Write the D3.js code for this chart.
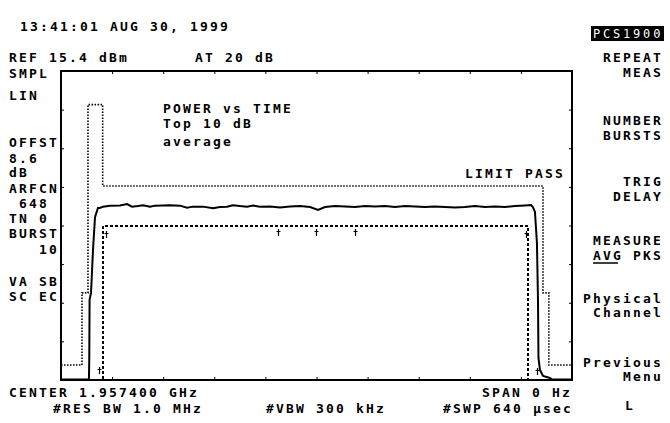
<!DOCTYPE html>
<html><head><meta charset="utf-8">
<script src="https://cdn.jsdelivr.net/npm/d3@7"></script>
<style>
body{margin:0;background:#fff}
svg text{font-family:"DejaVu Sans Mono",monospace;font-weight:bold;font-size:13px;letter-spacing:2.17px;fill:#000}
</style></head><body>
<svg id="c" width="670" height="423"></svg>
<script>
// Instrument settings
const REF_DBM = 15.4;       // reference level at top of the graticule (linear display)
const SWEEP_US = 640;       // zero-span sweep time

// Averaged burst trace: time (µs) and level (dBm)
const traceTime = [0, 35.0, 35.4, 35.8, 37.6, 40.1, 42.6, 46.3, 48.8, 52.6, 61.4, 73.9, 82.7, 88.9, 96.4, 102.7,
  111.5, 117.7, 136.5, 149.0, 157.8, 165.3, 177.8, 190.4, 199.1, 207.9, 215.4, 224.2, 232.9, 240.5, 249.2,
  261.8, 274.3, 286.8, 299.3, 311.9, 321.9, 330.6, 343.2, 355.7, 368.2, 380.7, 393.3, 405.8, 418.3, 430.8,
  443.4, 455.9, 468.4, 480.9, 493.4, 506.0, 518.5, 531.0, 543.5, 556.1, 568.6, 581.1, 588.6, 591.1, 593.6,
  596.1, 597.4, 598.0, 599.9, 603.7, 612.4, 615.0, 640];
const traceLevel = [-40, -40, -8, 3.7, 4.4, 7.9, 9.84, 10.31, 10.31, 10.38, 10.43, 10.44, 10.51, 10.38, 10.41, 10.45,
  10.38, 10.43, 10.45, 10.43, 10.33, 10.38, 10.38, 10.30, 10.36, 10.38, 10.45, 10.41, 10.38, 10.43, 10.38,
  10.39, 10.34, 10.39, 10.41, 10.36, 10.21, 10.36, 10.41, 10.39, 10.36, 10.41, 10.39, 10.41, 10.36, 10.41,
  10.39, 10.36, 10.39, 10.36, 10.34, 10.36, 10.41, 10.36, 10.39, 10.36, 10.41, 10.44, 10.46, 10.36, 10.11,
  8.34, 3.66, -7.55, -14.4, -22.4, -28.4, -40, -40];

// Upper limit mask (dotted): corner times (µs) and levels (dBm)
const upperTime  = [0, 26.3, 26.3, 33.8, 33.8, 52.2, 52.2, 603.7, 603.7, 611.0, 611.0, 640];
const upperLevel = [-10.9, -10.9, 4.4, 4.4, 14.4, 14.4, 11.36, 11.36, 4.4, 4.4, -10.9, -10.9];

// Lower limit mask (dashed)
const lowerTime  = [52.6, 52.6, 584.9, 584.9];
const lowerLevel = [-40, 9.35, 9.35, -40];

// Gate markers: time (µs), level (dBm)
const markerTime  = [56.4, 271.8, 319.4, 368.2, 582.4, 47.6, 596.1];
const markerLevel = [9.0, 9.1, 9.1, 9.1, 9.0, -12.5, -13.5];

const svg = d3.select("#c");

const x = d3.scaleLinear().domain([0, SWEEP_US]).range([61, 572]);
// linear voltage display: full scale = reference level
const v = d3.scaleLinear().domain([0, 1]).range([380, 71]);
const y = dbm => v(Math.pow(10, (dbm - REF_DBM) / 20));

const zip = (a, b) => a.map((t, i) => [t, b[i]]);
const line = d3.line().x(d => x(d[0])).y(d => y(d[1]));

// graticule frame
svg.append("rect")
  .attr("x", x(0)).attr("y", v(1))
  .attr("width", x(SWEEP_US) - x(0)).attr("height", v(0) - v(1))
  .attr("fill", "none").attr("stroke", "#000").attr("stroke-width", 2);

// small division ticks
const xAxisTop = d3.axisBottom(x).tickValues(d3.range(64, SWEEP_US, 64)).tickSize(3).tickFormat("");
const xAxisBot = d3.axisTop(x).tickValues(d3.range(64, SWEEP_US, 64)).tickSize(3).tickFormat("");
const yAxisL = d3.axisRight(v).tickValues(d3.range(0.125, 1, 0.125)).tickSize(3).tickFormat("");
const yAxisR = d3.axisLeft(v).tickValues(d3.range(0.125, 1, 0.125)).tickSize(3).tickFormat("");
[[xAxisTop, `translate(0,${v(1)})`], [xAxisBot, `translate(0,${v(0)})`],
 [yAxisL, `translate(${x(0)},0)`], [yAxisR, `translate(${x(SWEEP_US)},0)`]].forEach(([ax, tr]) => {
  const g = svg.append("g").attr("transform", tr).call(ax);
  g.select(".domain").remove();
  g.selectAll("line").attr("stroke", "#000").attr("stroke-width", 1);
});

// limit masks
svg.append("path").datum(zip(upperTime, upperLevel)).attr("d", line)
  .attr("fill", "none").attr("stroke", "#000").attr("stroke-width", 1.6)
  .attr("stroke-dasharray", "1.5,1.5");
svg.append("path").datum(zip(lowerTime, lowerLevel)).attr("d", line)
  .attr("fill", "none").attr("stroke", "#000").attr("stroke-width", 1.5)
  .attr("stroke-dasharray", "3,2").attr("shape-rendering", "crispEdges");

// measured trace
svg.append("path").datum(zip(traceTime, traceLevel)).attr("d", line)
  .attr("fill", "none").attr("stroke", "#000").attr("stroke-width", 2).attr("stroke-linejoin", "miter");

// gate markers (small dagger glyphs)
svg.selectAll("path.mk").data(zip(markerTime, markerLevel)).join("path")
  .attr("class", "mk")
  .attr("transform", d => `translate(${Math.round(x(d[0]))},${Math.round(y(d[1]))})`)
  .attr("d", "M0.5,-1V6M-1.5,1.5H2.5")
  .attr("fill", "none").attr("stroke", "#000").attr("stroke-width", 1.2);

// annotation text
const label = (t, px, py) => svg.append("text").attr("x", px).attr("y", py).text(t);

label("13:41:01 AUG 30, 1999", 20, 31);
label("REF 15.4 dBm", 9, 62);
label("AT 20 dB", 195, 62);

const side = [["SMPL", 78], ["LIN", 100], ["OFFST", 147], ["8.6", 163], ["dB", 177], ["ARFCN", 193],
  [" 648", 208], ["TN 0", 223], ["BURST", 238], ["   10", 254], ["VA SB", 286], ["SC EC", 301]];
side.forEach(([t, py]) => svg.append("text").attr("x", 9).attr("y", py).attr("xml:space", "preserve")
  .style("white-space", "pre").text(t));

label("POWER vs TIME", 163, 113);
label("Top 10 dB", 163, 128);
label("average", 163, 146);
label("LIMIT PASS", 465, 178);

label("CENTER 1.957400 GHz", 9, 397);
label("#RES BW 1.0 MHz", 53, 413);
label("#VBW 300 kHz", 266, 413);
label("SPAN 0 Hz", 482, 397);
label("#SWP 640 µsec", 443, 413);

// softkey menu
svg.append("rect").attr("x", 591).attr("y", 26).attr("width", 73).attr("height", 15).attr("fill", "#000");
svg.append("text").attr("x", 593).attr("y", 38).style("fill", "#fff").style("font-size", "12px")
  .style("letter-spacing", "2.8px").style("font-weight", "normal").text("PCS1900");

const keys = [["REPEAT", 62], ["MEAS", 77], ["NUMBER", 125], ["BURSTS", 140], ["TRIG", 186], ["DELAY", 201],
  ["MEASURE", 245], ["AVG PKS", 260], ["Physical", 303], ["Channel", 317], ["Previous", 367], ["Menu", 381]];
keys.forEach(([t, py]) => svg.append("text").attr("x", 653 - (t.length - 1) * 10).attr("y", py).text(t));
svg.append("line").attr("x1", 593).attr("x2", 618).attr("y1", 263).attr("y2", 263)
  .attr("stroke", "#000").attr("stroke-width", 1.5);
label("L", 625, 410);
</script>
</body></html>
